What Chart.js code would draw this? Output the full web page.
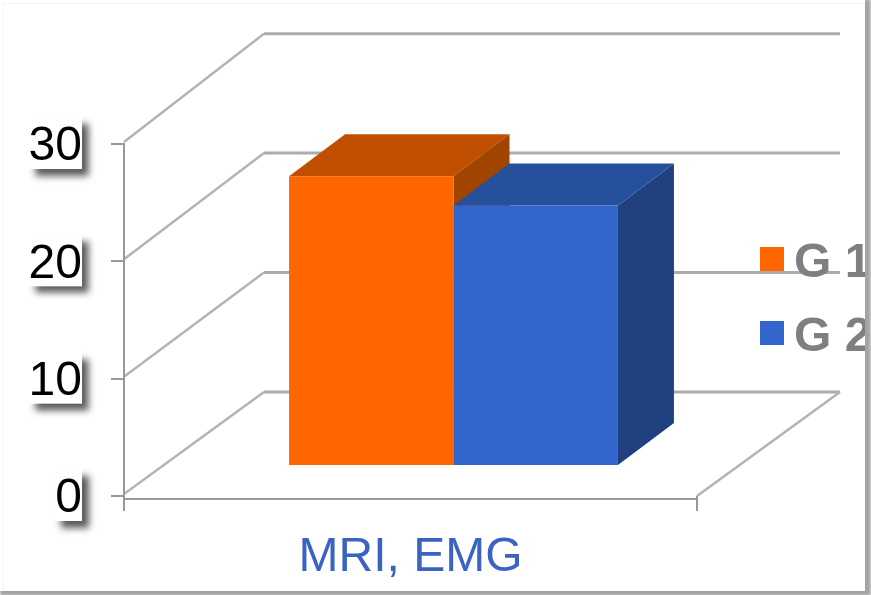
<!DOCTYPE html>
<html>
<head>
<meta charset="utf-8">
<title>MRI, EMG</title>
<script src="https://cdn.jsdelivr.net/npm/chart.js@4"></script>
<style>
  html, body { margin: 0; padding: 0; background: #fff; overflow: hidden; }
  #chart { position: absolute; left: 0; top: 0; box-shadow: 3px 2px 3px 3px #a4a4a4; }
</style>
</head>
<body>
<canvas id="chart" width="865" height="591"></canvas>
<script>
const categories = ["MRI, EMG"];
const seriesNames = ["G 1", "G 2"];
const g1Values = [24.7];
const g2Values = [22.2];

const FONT = '"Liberation Sans", Arial, sans-serif';
const axisColor = "#999999";

// 3d look: the back wall, the bars' front plane and the bar depth
const wall = { dx: 140, dy: 104, stretch: 1.018 };
const barShift = { dx: 43, dy: -30 };
const barDepth = { dx: 56, dy: -42 };
const barShades = [
  { top: "#c05000", side: "#a04400" },
  { top: "#26509c", side: "#204080" },
];

const wallsPlugin = {
  id: "walls",
  beforeDraw(chart) {
    const { ctx, chartArea: area, scales } = chart;
    const y = scales.y;
    const y0 = y.getPixelForValue(0);
    const backLeft = area.left + wall.dx;
    const backRight = area.right + 143;
    const backY = v => y0 - wall.dy - (y0 - y.getPixelForValue(v)) * wall.stretch;

    ctx.save();
    ctx.lineCap = "butt";
    // faint edge of the card
    ctx.strokeStyle = "#f4f4f4";
    ctx.lineWidth = 1;
    ctx.beginPath();
    ctx.moveTo(3.5, chart.height);
    ctx.lineTo(3.5, 3.5);
    ctx.lineTo(chart.width, 3.5);
    ctx.stroke();

    y.ticks.forEach(t => {
      const by = backY(t.value);
      ctx.strokeStyle = "#b4b4b4";
      ctx.lineWidth = 2.5;
      ctx.beginPath();
      ctx.moveTo(area.left, y.getPixelForValue(t.value) - 2);
      ctx.lineTo(backLeft, by);
      ctx.stroke();
      ctx.strokeStyle = "#acacac";
      ctx.lineWidth = 3;
      ctx.beginPath();
      ctx.moveTo(backLeft, by);
      ctx.lineTo(backRight, by);
      ctx.stroke();
    });
    // floor: front edge and right edge
    ctx.strokeStyle = "#b4b4b4";
    ctx.lineWidth = 2.5;
    ctx.beginPath();
    ctx.moveTo(area.right, y0);
    ctx.lineTo(backRight, backY(0));
    ctx.stroke();
    ctx.strokeStyle = axisColor;
    ctx.lineWidth = 2;
    ctx.beginPath();
    ctx.moveTo(area.left, y0 + 3);
    ctx.lineTo(area.right, y0 + 3);
    ctx.stroke();
    ctx.restore();
  },
};

// white cards with a drop shadow behind the value labels
const labelCardsPlugin = {
  id: "labelCards",
  beforeDraw(chart) {
    const { ctx, scales } = chart;
    const y = scales.y;
    ctx.save();
    ctx.font = "48px " + FONT;
    y.ticks.forEach(t => {
      const w = ctx.measureText(t.label).width;
      const py = y.getPixelForValue(t.value);
      ctx.shadowColor = "rgba(0,0,0,0.65)";
      ctx.shadowBlur = 7;
      ctx.shadowOffsetX = 7;
      ctx.shadowOffsetY = 7;
      ctx.fillStyle = "#fff";
      ctx.fillRect(82 - w - 1, py - 27, w + 1, 52);
    });
    ctx.restore();
  },
};

const legendPlugin = {
  id: "sideLegend",
  beforeDraw(chart) {
    const { ctx, data } = chart;
    ctx.save();
    ctx.textBaseline = "middle";
    ctx.font = "bold 48px " + FONT;
    data.datasets.forEach((ds, i) => {
      const top = 247 + i * 74;
      ctx.fillStyle = ds.backgroundColor;
      ctx.fillRect(760, top, 24, 24);
      ctx.fillStyle = "#7f7f7f";
      ctx.fillText(ds.label, 794, top + 17);
    });
    ctx.restore();
  },
};

// tops and sides first, the library then paints the front faces over them
const barsPlugin = {
  id: "bars3d",
  beforeDatasetsDraw(chart) {
    const { ctx } = chart;
    ctx.save();
    ctx.translate(barShift.dx, barShift.dy);
    chart.data.datasets.forEach((ds, i) => {
      chart.getDatasetMeta(i).data.forEach(bar => {
        const left = bar.x - bar.width / 2;
        const right = bar.x + bar.width / 2;
        const top = bar.y;
        const base = bar.base;
        ctx.fillStyle = barShades[i].top;
        ctx.beginPath();
        ctx.moveTo(left, top);
        ctx.lineTo(left + barDepth.dx, top + barDepth.dy);
        ctx.lineTo(right + barDepth.dx, top + barDepth.dy);
        ctx.lineTo(right, top);
        ctx.closePath();
        ctx.fill();
        ctx.fillStyle = barShades[i].side;
        ctx.beginPath();
        ctx.moveTo(right, top);
        ctx.lineTo(right + barDepth.dx, top + barDepth.dy);
        ctx.lineTo(right + barDepth.dx, base + barDepth.dy);
        ctx.lineTo(right, base);
        ctx.closePath();
        ctx.fill();
      });
    });
  },
  afterDatasetsDraw(chart) {
    chart.ctx.restore();
  },
};

new Chart(document.getElementById("chart"), {
  type: "bar",
  data: {
    labels: categories,
    datasets: [
      { label: seriesNames[0], data: g1Values, backgroundColor: "#ff6600", clip: false },
      { label: seriesNames[1], data: g2Values, backgroundColor: "#3366cc", clip: false },
    ],
  },
  options: {
    responsive: false,
    animation: false,
    devicePixelRatio: 1,
    categoryPercentage: 0.574,
    barPercentage: 1,
    layout: { padding: { top: 144, right: 168, left: 0, bottom: 0 } },
    plugins: { legend: { display: false }, tooltip: { enabled: false } },
    scales: {
      x: {
        afterFit: s => { s.height = 95; },
        border: { display: false },
        grid: { offset: true, drawOnChartArea: false, color: axisColor, lineWidth: 2, tickLength: 15 },
        ticks: { color: "#3b63c4", padding: 18, maxRotation: 0, font: { family: FONT, size: 48 } },
      },
      y: {
        min: 0,
        max: 30,
        afterFit: s => { s.width = 124; },
        border: { color: axisColor, width: 2 },
        grid: { drawOnChartArea: false, color: axisColor, lineWidth: 2, tickLength: 13 },
        ticks: { stepSize: 10, color: "#000", padding: 29, labelOffset: 3, font: { family: FONT, size: 48 } },
      },
    },
  },
  plugins: [wallsPlugin, labelCardsPlugin, legendPlugin, barsPlugin],
});
</script>
</body>
</html>
